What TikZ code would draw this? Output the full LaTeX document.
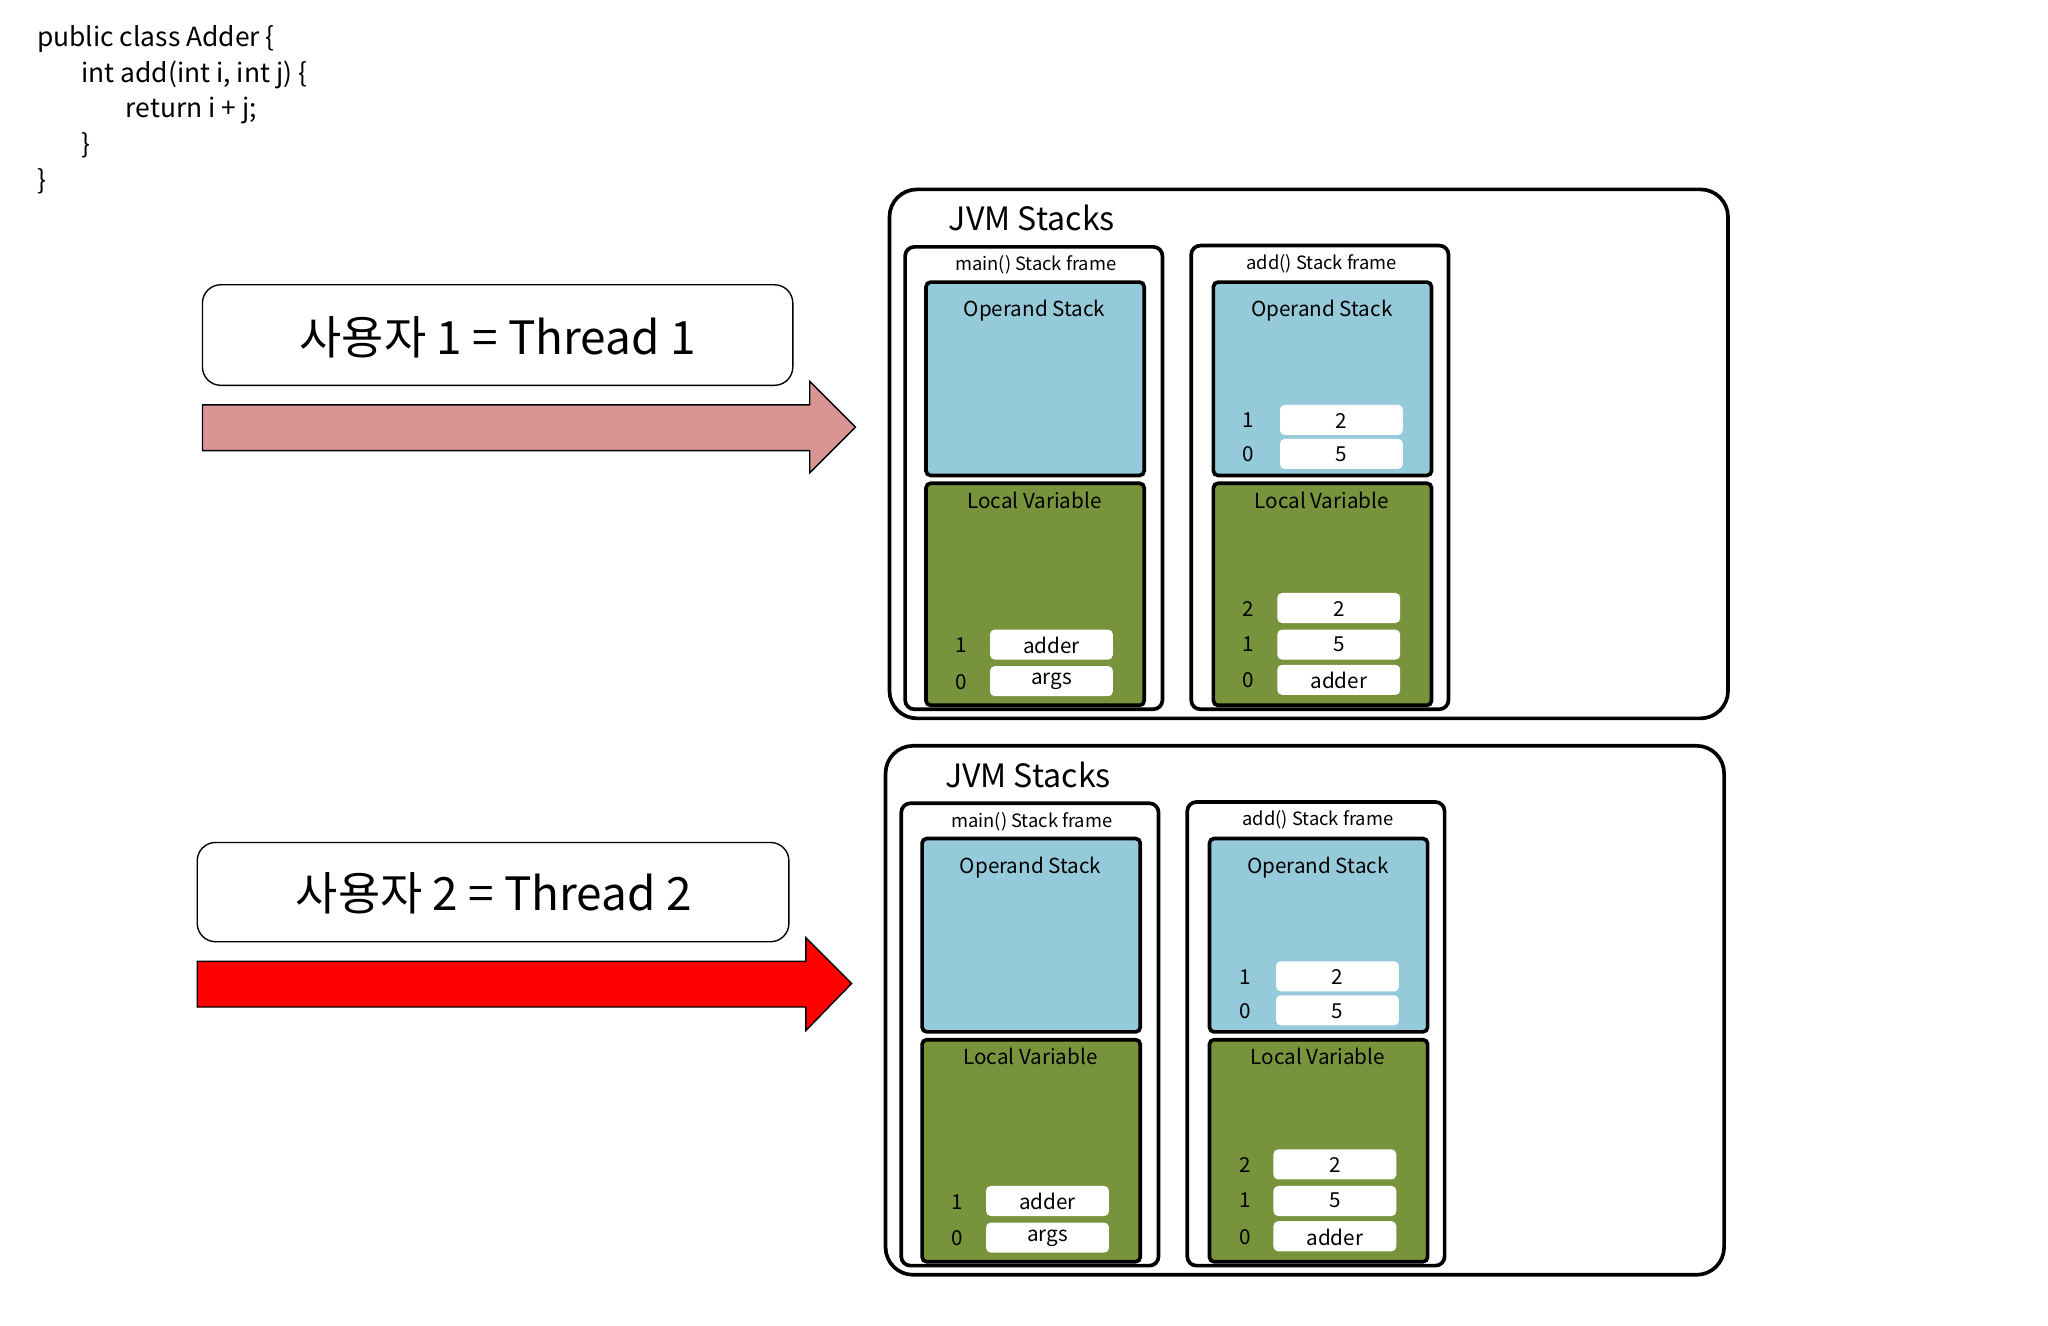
\documentclass[tikz,border=0pt]{standalone}
\usepackage{fontspec}
\setmainfont{Noto Sans CJK KR}
\usetikzlibrary{positioning}
\definecolor{opblue}{HTML}{95CADB}
\definecolor{lvgreen}{HTML}{77933C}
\definecolor{pinkarrow}{HTML}{D99594}

% one JVM Stacks panel: #1 prefix, #2 shift
\newcommand{\jvmpanel}[2]{%
\begin{scope}[shift={#2}]
  \draw[thickbox, rounded corners=12] (681,145) rectangle (1323,550);
  \node[anchor=center, font=\fontsize{14}{16}\selectfont] (#1-title) at (790,167) {JVM Stacks};
  % main() frame
  \draw[thickbox, rounded corners=4] (693,189) rectangle (890,543);
  \node[framelbl] (#1-mainlbl) at (793,203) {main() Stack frame};
  \draw[thickbox, fill=opblue, rounded corners=2] (709,216) rectangle (876,364);
  \node[boxlbl] (#1-mainop) at (792,238) {Operand Stack};
  \draw[thickbox, fill=lvgreen, rounded corners=2] (709,370) rectangle (876,540);
  \node[boxlbl] (#1-mainlv) at (792,383) {Local Variable};
  \draw[slot] (758,482) rectangle (852,505);
  \node[boxlbl] (#1-m1) at (805,494) {adder};
  \node[boxlbl] (#1-i1) at (736,494) {1};
  \draw[slot] (758,510) rectangle (852,533);
  \node[boxlbl] (#1-m0) at (805,522) {args};
  \node[boxlbl] (#1-i0) at (736,522) {0};
  % add() frame
  \draw[thickbox, rounded corners=4] (912,188) rectangle (1109,543);
  \node[framelbl] (#1-addlbl) at (1012,202) {add() Stack frame};
  \draw[thickbox, fill=opblue, rounded corners=2] (929,216) rectangle (1096,364);
  \node[boxlbl] (#1-addop) at (1012,238) {Operand Stack};
  \draw[slot] (980,310) rectangle (1074,333);
  \node[boxlbl] (#1-o1) at (1027,322) {2};
  \node[boxlbl] (#1-oi1) at (956,322) {1};
  \draw[slot] (980,336) rectangle (1074,359);
  \node[boxlbl] (#1-o0) at (1027,348) {5};
  \node[boxlbl] (#1-oi0) at (956,348) {0};
  \draw[thickbox, fill=lvgreen, rounded corners=2] (929,370) rectangle (1096,540);
  \node[boxlbl] (#1-addlv) at (1012,383) {Local Variable};
  \draw[slot] (978,454) rectangle (1072,477);
  \node[boxlbl] (#1-l2) at (1025,466) {2};
  \node[boxlbl] (#1-li2) at (956,466) {2};
  \draw[slot] (978,482) rectangle (1072,505);
  \node[boxlbl] (#1-l1) at (1025,493) {5};
  \node[boxlbl] (#1-li1) at (956,493) {1};
  \draw[slot] (978,509) rectangle (1072,532);
  \node[boxlbl] (#1-l0) at (1025,521) {adder};
  \node[boxlbl] (#1-li0) at (956,521) {0};
\end{scope}}

\begin{document}
\begin{tikzpicture}[x=0.02cm, y=-0.02cm,
    thickbox/.style={draw=black, line width=1.6pt},
    slot/.style={draw=none, fill=white, rounded corners=2},
    framelbl/.style={inner sep=0pt, font=\fontsize{8}{9}\selectfont},
    boxlbl/.style={inner sep=0pt, font=\fontsize{9}{10}\selectfont},
    threadbox/.style={draw=black, line width=0.6pt, rounded corners=8},
    threadlbl/.style={inner sep=0pt, font=\fontsize{20}{24}\selectfont},
    code/.style={anchor=north west, inner sep=0pt, font=\fontsize{11.5}{13}\selectfont, align=left}]
  \useasboundingbox (0,0) rectangle (1568,1015);

  % source code
  \node[code] (c1) at (28,19) {public class Adder \{};
  \node[code] (c2) at (62,46) {int add(int i, int j) \{};
  \node[code] (c3) at (96,74) {return i + j;};
  \node[code] (c4) at (62,101) {\}};
  \node[code] (c5) at (28,129) {\}};

  % thread 1
  \draw[threadbox] (155,218) rectangle (607,295);
  \node[threadlbl] (t1) at (381,258) {사용자 1 = Thread 1};
  \draw[fill=pinkarrow, line width=0.6pt] (155,310) -- (620,310) -- (620,292) -- (655,327)
    -- (620,362) -- (620,345) -- (155,345) -- cycle;

  % thread 2
  \draw[threadbox] (151,645) rectangle (604,721);
  \node[threadlbl] (t2) at (378,684) {사용자 2 = Thread 2};
  \draw[fill=red, line width=0.6pt] (151,736) -- (617,736) -- (617,718) -- (652,753)
    -- (617,789) -- (617,771) -- (151,771) -- cycle;

  \jvmpanel{s1}{(0,0)}
  \jvmpanel{s2}{(-3,426)}
\end{tikzpicture}
\end{document}
